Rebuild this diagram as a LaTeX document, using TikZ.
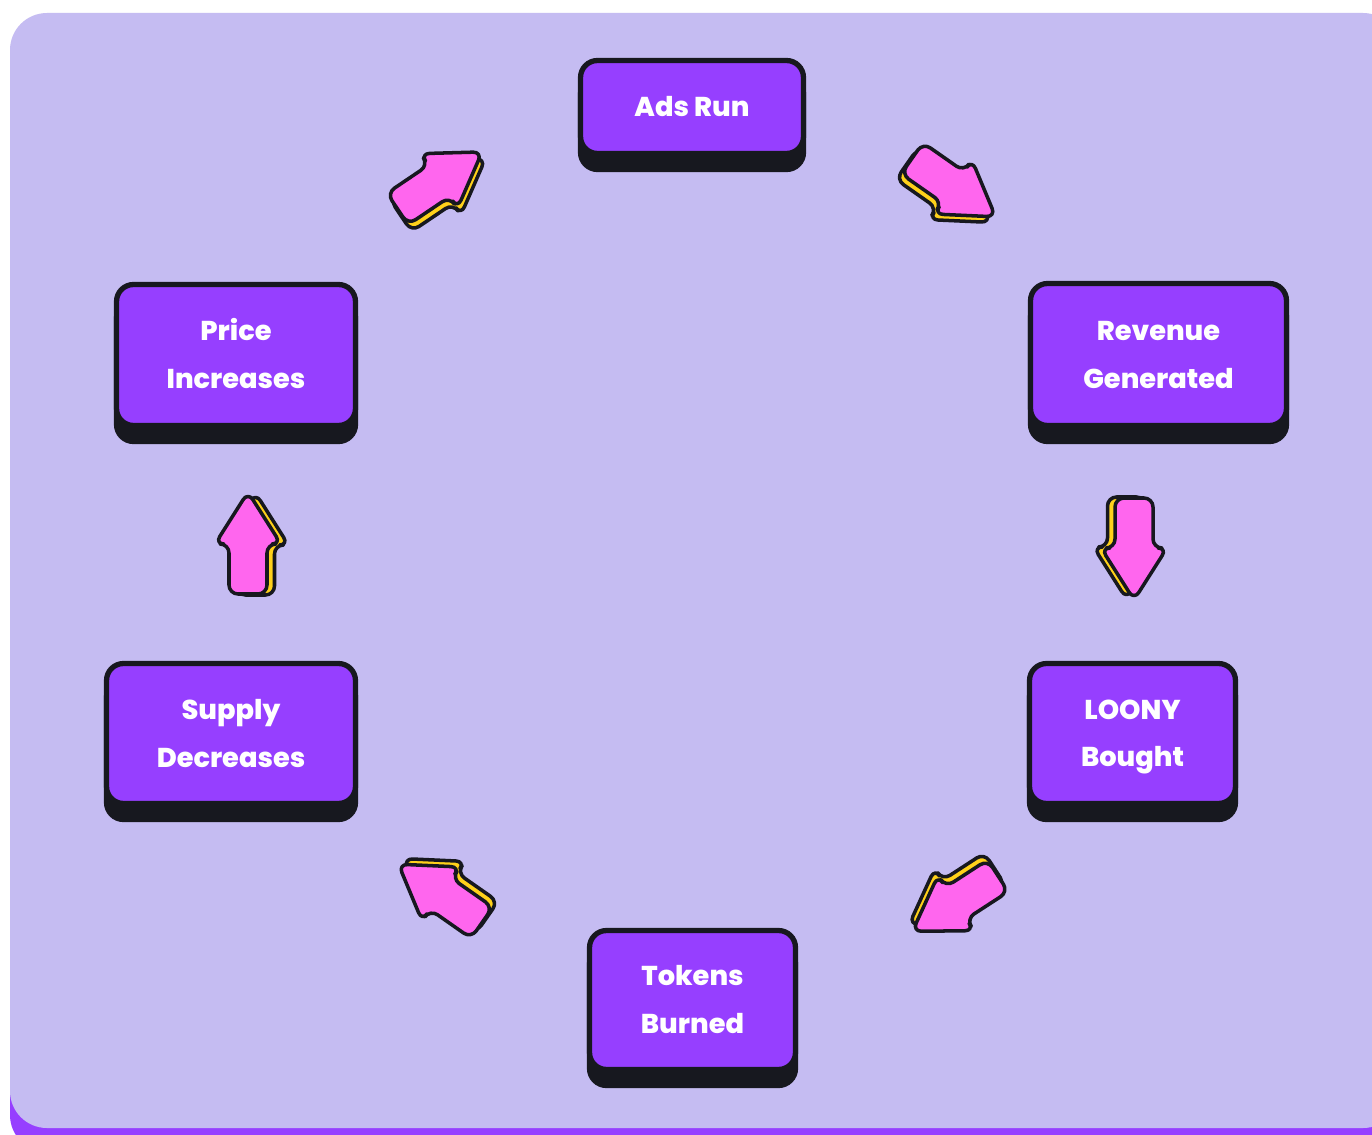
\documentclass[tikz,border=0pt]{standalone}
\usepackage{fontspec}
\setmainfont{Poppins}[BoldFont={Poppins ExtraBold}]
\usetikzlibrary{shadows}
\definecolor{bg}{HTML}{C5BCF2}
\definecolor{boxpurple}{HTML}{963FFF}
\definecolor{ink}{HTML}{17181F}
\definecolor{pinkarrow}{HTML}{FF66EE}
\definecolor{yellowarrow}{HTML}{FFD11A}
\newcommand\topline{\rule{0pt}{15.2pt}}
\newcommand\botline{\rule[-4pt]{0pt}{4pt}}
\tikzset{
  stepbox/.style={rectangle, rounded corners=0.34cm, fill=boxpurple, draw=ink,
    line width=3pt, text=white, align=center, inner sep=0pt,
    font=\fontsize{15.5}{27.2}\selectfont\bfseries,
    general shadow={shadow yshift=-0.32cm, fill=ink, draw=ink, line width=3pt}},
  arrowline/.style={draw=ink, line width=2pt, rounded corners=0.18cm, line join=round},
  blockarrow/.pic={
    \draw[arrowline, fill=yellowarrow, shift={(-1,7.5)}]
      (-50,-19) -- (0,-19) -- (0,-33) -- (52,0) -- (0,33) -- (0,19) -- (-50,19) -- cycle;
    \draw[arrowline, fill=pinkarrow]
      (-50,-19) -- (0,-19) -- (0,-33) -- (52,0) -- (0,33) -- (0,19) -- (-50,19) -- cycle;
  }
}
\begin{document}
\begin{tikzpicture}[x=0.02cm, y=-0.02cm]
\useasboundingbox (0,0) rectangle (1372,1135);
\clip (0,0) rectangle (1372,1135);
% background panel
\fill[white] (0,0) rectangle (1372,1135);
\fill[boxpurple, rounded corners=0.74cm] (10,40) rectangle (1400,1152);
\fill[bg, rounded corners=0.74cm] (10,13) rectangle (1400,1128);
% boxes
\node[stepbox, minimum width=4.46cm, minimum height=1.86cm] (ads) at (692,107) {Ads Run};
\node[stepbox, minimum width=5.12cm, minimum height=2.84cm] (rev) at (1158.5,354.5) {\topline Revenue\\Generated\botline};
\node[stepbox, minimum width=4.12cm, minimum height=2.80cm] (loony) at (1132.5,733.5) {\topline LOONY\\Bought\botline};
\node[stepbox, minimum width=4.12cm, minimum height=2.78cm] (tokens) at (692.5,1000) {\topline Tokens\\Burned\botline};
\node[stepbox, minimum width=4.98cm, minimum height=2.80cm] (supply) at (231,733.5) {\topline Supply\\Decreases\botline};
\node[stepbox, minimum width=4.78cm, minimum height=2.82cm] (price) at (236,355) {\topline Price\\Increases\botline};
% block arrows
\pic[rotate=34] at (439,181) {blockarrow};
\pic[rotate=-35] at (953,187) {blockarrow};
\pic[rotate=-90] at (1134,548) {blockarrow};
\pic[rotate=-147] at (956,903) {blockarrow};
\pic[rotate=145] at (441,894) {blockarrow};
\pic[rotate=90] at (248,544) {blockarrow};
\end{tikzpicture}
\end{document}
